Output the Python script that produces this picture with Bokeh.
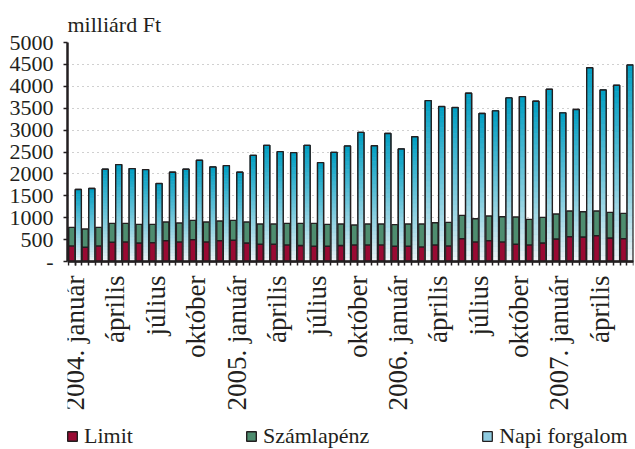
import numpy as np
from bokeh.plotting import figure
from bokeh.models import Range1d, FixedTicker, Legend, LegendItem, ColumnDataSource
from bokeh.embed import file_html
from bokeh.resources import INLINE

# ---- data (milliárd Ft), monthly 2004 Jan .. 2007 Jun ----
months = list(range(42))
tick_labels = ["2004. január", "április", "július", "október",
               "2005. január", "április", "július", "október",
               "2006. január", "április", "július", "október",
               "2007. január", "április"]
limit = [356, 326, 356, 439, 447, 424, 432, 477, 447, 500, 447, 477,
         485, 424, 394, 394, 379, 364, 348, 348, 364, 379, 379, 379,
         348, 348, 333, 379, 356, 523, 447, 477, 447, 394, 379, 424,
         515, 568, 561, 591, 538, 523]
szamlapenz = [424, 416, 424, 432, 424, 424, 416, 425, 432, 439, 455, 447,
              454, 478, 462, 462, 492, 507, 523, 500, 492, 454, 477, 477,
              493, 508, 523, 507, 538, 530, 530, 561, 576, 621, 583, 584,
              568, 584, 575, 561, 583, 576]
napi = [1644, 1667, 2106, 2212, 2121, 2098, 1780, 2038, 2106, 2311, 2159, 2189,
        2038, 2424, 2652, 2508, 2485, 2652, 2258, 2492, 2636, 2947, 2644, 2924,
        2568, 2848, 3674, 3538, 3515, 3841, 3379, 3439, 3735, 3765, 3659, 3932,
        3394, 3470, 4424, 3917, 4023, 4485]

RED = "#990a33"
GREEN = "#4e8d6f"
OUT = "#231f20"
FONT = "Liberation Serif"

# frame: top at 42px, value 0 at 261px, frame runs to the bottom of the canvas
Y_MAX = 5000
PX_PER_UNIT = 219 / 5000
Y_MIN = -(449 - 261) / PX_PER_UNIT

p = figure(width=635, height=449, output_backend="svg", toolbar_location=None,
           x_range=Range1d(-0.56, 41.5), y_range=Range1d(Y_MIN, Y_MAX),
           min_border_left=67, min_border_right=2, min_border_top=42,
           min_border_bottom=0)
p.outline_line_color = None
p.background_fill_color = "white"

m = np.array(months, dtype=float)
lim = np.array(limit, dtype=float)
sz = np.array(szamlapenz, dtype=float)
nap = np.array(napi, dtype=float)

BW = 0.45
x_rg = m - 0.245
x_b = m + 0.245

# stacked Limit + Számlapénz
src = ColumnDataSource(dict(x=x_rg, lim=lim, tot=lim + sz))
r_lim = p.vbar(x="x", bottom=0, top="lim", width=BW, source=src,
               fill_color=RED, line_color=OUT, line_width=1.4)
r_sz = p.vbar(x="x", bottom="lim", top="tot", width=BW, source=src,
              fill_color=GREEN, line_color=OUT, line_width=1.4)

# Napi forgalom: base bar (used for the legend), gradient slices, outline
r_nap = p.vbar(x=x_b, bottom=0, top=nap, width=BW, fill_color="#8fcbe0",
               line_color=OUT, line_width=1.3)
N = 30
bot_c = np.array([0xf2, 0xf5, 0xf7], dtype=float)
top_c = np.array([0x00, 0x9e, 0xc2], dtype=float)
gx, gb, gt, gc = [], [], [], []
for i in range(len(months)):
    for k in range(N):
        t = (k + 0.5) / N
        c = bot_c + (top_c - bot_c) * (t ** 0.9)
        gx.append(x_b[i])
        gb.append(nap[i] * k / N)
        gt.append(nap[i] * (k + 1) / N)
        gc.append("#%02x%02x%02x" % tuple(int(round(v)) for v in c))
gsrc = ColumnDataSource(dict(x=gx, b=gb, t=gt, c=gc))
p.vbar(x="x", bottom="b", top="t", width=BW, source=gsrc,
       fill_color="c", line_color="c", line_width=0.5)
p.vbar(x=x_b, bottom=0, top=nap, width=BW, fill_color=None,
       line_color=OUT, line_width=1.4)

# axes
label_pos = [float(i) for i in months if i % 3 == 0]
minor = [i * 0.5 - 0.5 for i in range(2 * len(months) + 1)]
p.xaxis.fixed_location = 0
p.xaxis.ticker = FixedTicker(ticks=label_pos, minor_ticks=minor)
p.xaxis.major_label_overrides = {pos: lab for pos, lab in zip(label_pos, tick_labels)}
p.xaxis.major_label_orientation = np.pi / 2
p.xaxis.major_label_text_font = FONT
p.xaxis.major_label_text_font_size = "27px"
p.xaxis.major_label_text_color = "#231f20"
p.xaxis.major_label_standoff = 10
p.xaxis.axis_line_color = OUT
p.xaxis.axis_line_width = 2.5
p.xaxis.major_tick_line_color = OUT
p.xaxis.major_tick_line_width = 1.5
p.xaxis.major_tick_out = 4
p.xaxis.major_tick_in = 0
p.xaxis.minor_tick_line_color = OUT
p.xaxis.minor_tick_line_width = 1.5
p.xaxis.minor_tick_out = 4
p.xaxis.minor_tick_in = 0

p.yaxis.ticker = FixedTicker(ticks=list(range(0, 5001, 500)))
p.yaxis.bounds = (0, Y_MAX)
p.yaxis.major_label_overrides = {0: "-"}
p.yaxis.major_label_text_font = FONT
p.yaxis.major_label_text_font_size = "22px"
p.yaxis.major_label_text_color = "#231f20"
p.yaxis.major_label_standoff = 10
p.yaxis.axis_line_color = OUT
p.yaxis.axis_line_width = 2.5
p.yaxis.major_tick_line_color = OUT
p.yaxis.major_tick_line_width = 1.5
p.yaxis.major_tick_out = 4
p.yaxis.major_tick_in = 0
p.yaxis.minor_tick_line_color = None

p.xgrid.grid_line_color = None
p.ygrid.grid_line_color = "#a0a0a0"
p.ygrid.grid_line_dash = "1 4"
p.ygrid.grid_line_width = 1.2

p.title.text = "milliárd Ft"
p.title.align = "left"
p.title.text_font = FONT
p.title.text_font_size = "22px"
p.title.text_font_style = "normal"
p.title.text_color = "#231f20"
p.title.standoff = 12

legend = Legend(items=[LegendItem(label="Limit", renderers=[r_lim]),
                       LegendItem(label="Számlapénz", renderers=[r_sz]),
                       LegendItem(label="Napi forgalom", renderers=[r_nap])],
                orientation="horizontal", location=(-1, 0),
                label_text_font=FONT, label_text_font_size="22px",
                label_text_color="#231f20", label_height=24,
                glyph_width=12, glyph_height=12, label_standoff=6,
                spacing=112, padding=0, margin=0,
                border_line_alpha=0, background_fill_alpha=0)
p.add_layout(legend, "center")

open("out.html", "w").write(file_html(p, INLINE))
